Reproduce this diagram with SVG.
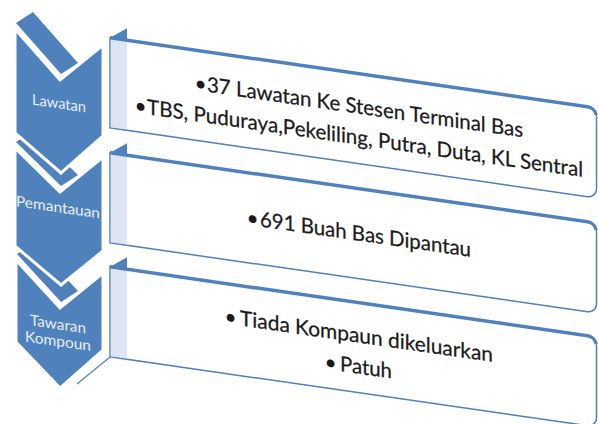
<svg xmlns="http://www.w3.org/2000/svg" width="598" height="424" viewBox="0 0 598 424">
<style>
.chev{fill:#4F81BD;stroke:#fff;stroke-width:3;stroke-linejoin:miter}
.flap{fill:#4F81BD}
.box{fill:#fff;stroke:#4F81BD;stroke-width:1.5}
.band{fill:#DCE6F2}
.top{fill:none;stroke:#4F81BD;stroke-width:3.5;stroke-linecap:butt}
.tri{fill:#4F81BD}
.lbl{font-family:Lato,"Liberation Sans",sans-serif;font-size:15px;fill:#E8EEF7}
.txt{font-family:Lato,"Liberation Sans",sans-serif;font-size:21px;fill:#1A1A1A;stroke:#1A1A1A;stroke-width:0.25}
.bul{font-family:Lato,"Liberation Sans",sans-serif;font-size:21px;fill:#1A1A1A;text-anchor:middle}
</style>
<rect width="598" height="424" fill="#fff"/>
<g id="boxes" transform="skewY(8.2)">
  <g id="box1">
    <path class="box" d="M110,22 H587.5 A9,9 0 0 1 596.5,31 V103 A9,9 0 0 1 587.5,112 H110 Z"/>
    <rect class="band" x="110.75" y="22.75" width="16.25" height="88.5"/>
    <path class="top" d="M110,22 H587.5 A9,9 0 0 1 596.2,29"/>
    <polygon class="tri" points="110,22 127,10 127,22"/>
    <text class="bul" x="200.5" y="62">•</text>
    <text class="txt" x="207" y="62" textLength="316" lengthAdjust="spacingAndGlyphs">37 Lawatan Ke Stesen Terminal Bas</text>
    <text class="bul" x="140.5" y="93">•</text>
    <text class="txt" x="147" y="93" textLength="436" lengthAdjust="spacingAndGlyphs">TBS, Puduraya,Pekeliling, Putra, Duta, KL Sentral</text>
  </g>
  <g id="box2">
    <path class="box" d="M110,137 H587.5 A9,9 0 0 1 596.5,146 V218 A9,9 0 0 1 587.5,227 H110 Z"/>
    <rect class="band" x="110.75" y="137.75" width="16.25" height="88.5"/>
    <path class="top" d="M110,137 H587.5 A9,9 0 0 1 596.2,144"/>
    <polygon class="tri" points="110,137 127,125 127,137"/>
    <text class="bul" x="252.5" y="189">•</text>
    <text class="txt" x="260" y="189" textLength="211" lengthAdjust="spacingAndGlyphs">691 Buah Bas Dipantau</text>
  </g>
  <g id="box3">
    <path class="box" d="M110,251 H587.5 A9,9 0 0 1 596.5,260 V332 A9,9 0 0 1 587.5,341 H110 Z"/>
    <rect class="band" x="110.75" y="251.75" width="16.25" height="88.5"/>
    <path class="top" d="M110,251 H587.5 A9,9 0 0 1 596.2,258"/>
    <polygon class="tri" points="110,251 127,239 127,251"/>
    <text class="bul" x="230.5" y="291">•</text>
    <text class="txt" x="240" y="291" textLength="253" lengthAdjust="spacingAndGlyphs">Tiada Kompaun dikeluarkan</text>
    <text class="bul" x="330.5" y="322">•</text>
    <text class="txt" x="340" y="322" textLength="52" lengthAdjust="spacingAndGlyphs">Patuh</text>
  </g>
</g>
<g id="connectors">
  <line x1="110" y1="357" x2="77" y2="384" stroke="#4F81BD" stroke-width="1.2"/>
</g>
<g id="flaps">
  <polygon class="flap" points="17,254 34,243 78,291 61,302"/>
  <polygon class="flap" points="16,142 33,131 78,175 61,186"/>
  <polygon class="flap" points="16,23 33,12 78,63 61,74"/>
</g>
<g id="chevron1">
  <polygon class="chev" points="15,29 60,80 103,45 103,136 61,173 15,133"/>
</g>
<g id="chevron2">
  <polygon class="chev" points="15,148 60,192 103,157 103,251 61,285 15,246"/>
</g>
<g id="chevron3">
  <polygon class="chev" points="16,260 60,308 103,273 103,350 60,388 16,342"/>
</g>
<g id="labels" transform="skewY(8.2)">
  <text class="lbl" x="32" y="100" textLength="54" lengthAdjust="spacingAndGlyphs">Lawatan</text>
  <text class="lbl" x="16" y="204" textLength="84" lengthAdjust="spacingAndGlyphs">Pemantauan</text>
  <text class="lbl" x="30" y="321" textLength="56" lengthAdjust="spacingAndGlyphs">Tawaran</text>
  <text class="lbl" x="25" y="338" textLength="66" lengthAdjust="spacingAndGlyphs">Kompoun</text>
</g>
</svg>
